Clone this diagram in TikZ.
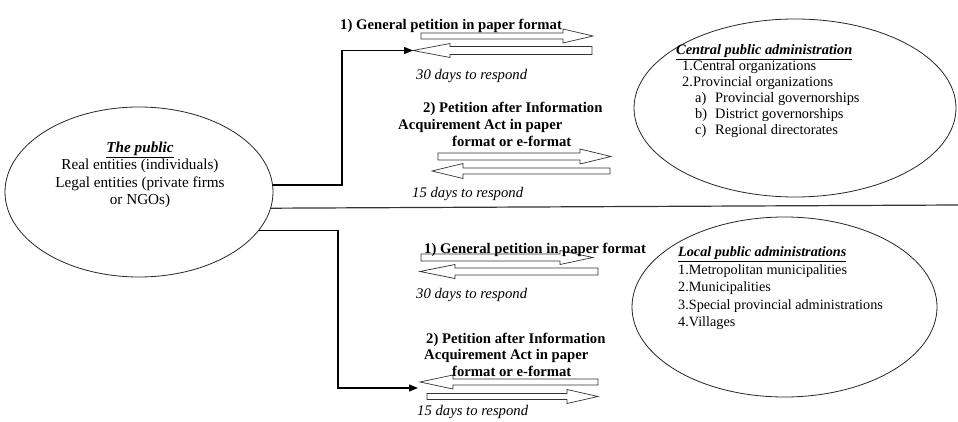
\documentclass[tikz,border=0pt]{standalone}
\usepackage{fontspec}
\setmainfont{Liberation Serif}
\usetikzlibrary{shapes.geometric,arrows.meta}
\newcommand\rblk[6]{% x0, x1, xtip, yc, half body, half head
  \draw[blk] (#1,#4-#5) -- (#2,#4-#5) -- (#2,#4-#6) -- (#3,#4) -- (#2,#4+#6) -- (#2,#4+#5) -- (#1,#4+#5) -- cycle;}
\newcommand\lblk[6]{% xtip, xheadback, xend, yc, half body, half head
  \draw[blk] (#1,#4) -- (#2,#4-#6) -- (#2,#4-#5) -- (#3,#4-#5) -- (#3,#4+#5) -- (#2,#4+#5) -- (#2,#4+#6) -- cycle;}
\begin{document}
\begin{tikzpicture}[x=1pt,y=-1pt,
  ell/.style={draw=black!85, ellipse, line width=0.8pt, inner sep=0pt},
  blk/.style={draw=black!80, line width=0.7pt, line join=miter},
  conn/.style={draw=black, line width=1.2pt, -{Triangle[length=9pt,width=7pt]}},
  divline/.style={draw=black!80, line width=1.2pt},
  lbl/.style={font=\fontsize{14.7}{17}\selectfont\bfseries, anchor=base west, inner sep=0pt},
  note/.style={font=\fontsize{14.7}{17}\selectfont\itshape, anchor=base west, inner sep=0pt}]
\useasboundingbox (0,0) rectangle (958,422);

% ellipses
\node[ell, minimum width=268pt, minimum height=170pt] (pub) at (139,192) {};
\node[ell, minimum width=322pt, minimum height=178pt] (cen) at (795,108) {};
\node[ell, minimum width=305pt, minimum height=180pt] (loc) at (784.5,307) {};

% block arrows
\rblk{421}{563}{593}{36}{3}{7}
\lblk{413}{450}{592}{50.5}{4}{7}
\rblk{438}{580}{611}{156.5}{3.5}{7.5}
\lblk{432}{463}{610}{171}{3}{7.5}
\rblk{421}{560}{593}{257.5}{3.5}{7}
\lblk{420}{455}{598}{271.5}{3.5}{7}
\lblk{420}{453}{598}{382}{3}{7}
\rblk{427}{567}{598}{396.5}{3}{7}

\node[font=\fontsize{15.2}{17.5}\selectfont, align=center, anchor=north, inner sep=0pt] (pubtxt) at (140,141.5)
  {\textbf{\textit{\underline{The public}}}\\Real entities (individuals)\\Legal entities (private firms\\or NGOs)};

\node[font=\fontsize{14.4}{16}\selectfont, align=left, anchor=north west, inner sep=0pt] (centxt) at (676,44.7)
  {\textbf{\textit{\underline{Central public administration}}}\\
   \hspace*{6pt}1.Central organizations\\
   \hspace*{6pt}2.Provincial organizations\\
   \hspace*{19pt}\makebox[20pt][l]{a)}Provincial governorships\\
   \hspace*{19pt}\makebox[20pt][l]{b)}District governorships\\
   \hspace*{19pt}\makebox[20pt][l]{c)}Regional directorates};

\node[font=\fontsize{14.2}{17.5}\selectfont, align=left, anchor=north west, inner sep=0pt] (loctxt) at (678,246.7)
  {\textbf{\textit{\underline{Local public administrations}}}\\
   1.Metropolitan municipalities\\
   2.Municipalities\\
   3.Special provincial administrations\\
   4.Villages};

% upper labels
\node[lbl] (u1) at (340,30) {1) General petition in paper format};
\node[note] (u30) at (416,80) {30 days to respond};
\node[lbl] (u2a) at (423,113) {2) Petition after Information};
\node[lbl] (u2b) at (398,130) {Acquirement Act in paper};
\node[lbl] (u2c) at (452,147) {format or e-format};
\node[note] (u15) at (412,197) {15 days to respond};

% lower labels
\node[lbl] (l1) at (424,253) {1) General petition in paper format};
\node[note] (l30) at (416,298) {30 days to respond};
\node[lbl] (l2a) at (426,343) {2) Petition after Information};
\node[lbl] (l2b) at (424,359) {Acquirement Act in paper};
\node[lbl] (l2c) at (452,376) {format or e-format};
\node[note] (l15) at (417,415) {15 days to respond};

\coordinate (a1l) at (413,50.5);
\coordinate (c4) at (418,388);
\coordinate (divend) at (958,205);

% connectors
\draw[conn] (pub.3) -| ([xshift=-71pt]a1l) -- (a1l);
\draw[conn] (pub.-18.7) -| ([xshift=-80pt]c4) -- (c4);
\draw[divline] (pub.-7.8) -- (divend);
\end{tikzpicture}
\end{document}
